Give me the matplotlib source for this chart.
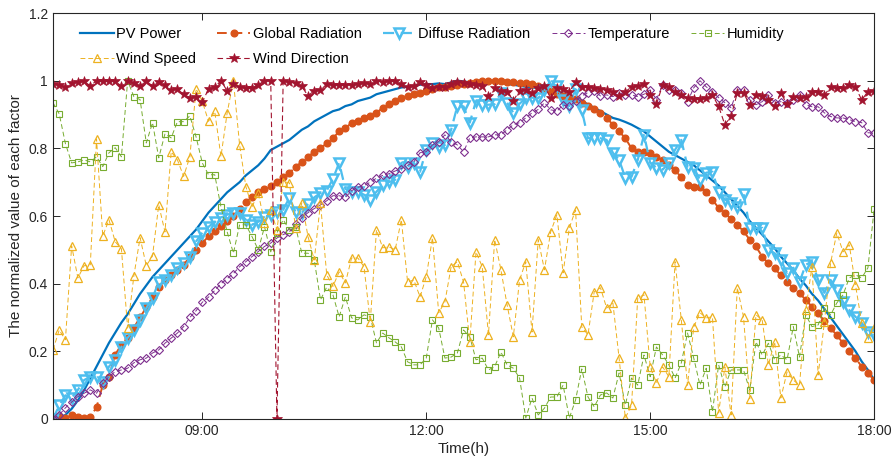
import numpy as np
import matplotlib
matplotlib.use("Agg")
import matplotlib.pyplot as plt
from matplotlib.ticker import FuncFormatter

plt.rcParams['font.family'] = ['Liberation Sans', 'DejaVu Sans']

# 5-minute samples from 07:00 to 18:00 (133 points)
n_pts = 133
hours = 7 + np.arange(n_pts) * 5 / 60

pv_power = [
    0.0, 0.003, 0.012, 0.03, 0.055, 0.085, 0.12, 0.155, 0.19, 0.225,
    0.255, 0.285, 0.31, 0.34, 0.37, 0.395, 0.42, 0.44, 0.46, 0.48,
    0.50, 0.52, 0.54, 0.56, 0.585, 0.61, 0.63, 0.65, 0.67, 0.685,
    0.70, 0.72, 0.735, 0.75, 0.77, 0.795, 0.805, 0.815, 0.825, 0.84,
    0.855, 0.865, 0.88, 0.89, 0.90, 0.91, 0.915, 0.925, 0.93, 0.94,
    0.945, 0.95, 0.96, 0.965, 0.97, 0.975, 0.98, 0.982, 0.985, 0.988,
    0.99, 0.99, 0.992, 0.99, 0.995, 1.0, 0.998, 0.995, 0.993, 0.995,
    1.0, 0.998, 0.995, 0.99, 0.988, 0.985, 0.982, 0.98, 0.978, 0.975,
    0.972, 0.968, 0.962, 0.955, 0.948, 0.94, 0.93, 0.92, 0.91, 0.90,
    0.89, 0.885, 0.878, 0.87, 0.86, 0.85, 0.835, 0.82, 0.805, 0.79,
    0.78, 0.77, 0.76, 0.75, 0.735, 0.72, 0.705, 0.69, 0.67, 0.65,
    0.63, 0.61, 0.585, 0.565, 0.545, 0.525, 0.505, 0.48, 0.46, 0.44,
    0.415, 0.395, 0.37, 0.35, 0.325, 0.30, 0.275, 0.25, 0.225, 0.20,
    0.17, 0.145, 0.115,
]

global_rad = [
    0.002, 0.009, 0.002, 0.012, 0.007, 0.002, 0.005, 0.035, 0.10, 0.125,
    0.19, 0.22, 0.24, 0.27, 0.30, 0.33, 0.36, 0.39, 0.41, 0.425,
    0.44, 0.455, 0.48, 0.50, 0.52, 0.54, 0.555, 0.57, 0.585, 0.60,
    0.62, 0.64, 0.655, 0.67, 0.68, 0.69, 0.70, 0.715, 0.727, 0.745,
    0.76, 0.775, 0.79, 0.80, 0.815, 0.83, 0.85, 0.86, 0.875, 0.88,
    0.89, 0.895, 0.905, 0.92, 0.93, 0.94, 0.95, 0.955, 0.96, 0.963,
    0.97, 0.975, 0.98, 0.98, 0.983, 0.987, 0.99, 0.993, 0.997, 1.0,
    1.0, 1.0, 0.998, 0.997, 0.995, 0.994, 0.993, 0.99, 0.983, 0.978,
    0.97, 0.962, 0.955, 0.95, 0.945, 0.935, 0.925, 0.915, 0.905, 0.89,
    0.87, 0.85, 0.83, 0.80, 0.79, 0.79, 0.787, 0.775, 0.766, 0.75,
    0.735, 0.715, 0.692, 0.687, 0.687, 0.672, 0.648, 0.624, 0.61, 0.59,
    0.574, 0.555, 0.53, 0.51, 0.48, 0.46, 0.445, 0.425, 0.405, 0.387,
    0.372, 0.352, 0.332, 0.312, 0.29, 0.268, 0.248, 0.224, 0.20, 0.18,
    0.155, 0.135, 0.115,
]

diffuse_rad = [
    0.0, 0.04, 0.07, 0.062, 0.086, 0.115, 0.125, 0.125, 0.11, 0.155,
    0.175, 0.213, 0.24, 0.263, 0.293, 0.328, 0.358, 0.405, 0.41, 0.425,
    0.447, 0.46, 0.48, 0.525, 0.55, 0.568, 0.583, 0.595, 0.604, 0.61,
    0.609, 0.589, 0.574, 0.583, 0.598, 0.604, 0.612, 0.618, 0.654, 0.612,
    0.609, 0.635, 0.655, 0.668, 0.675, 0.71, 0.757, 0.68, 0.672, 0.672,
    0.663, 0.648, 0.672, 0.692, 0.70, 0.707, 0.757, 0.746, 0.757, 0.731,
    0.796, 0.816, 0.805, 0.81, 0.855, 0.925, 0.924, 0.876, 0.94, 0.929,
    0.929, 0.931, 0.965, 0.935, 0.905, 0.932, 0.948, 0.95, 0.948, 0.973,
    1.0, 0.985, 0.944, 0.925, 0.975, 0.914, 0.83, 0.83, 0.83, 0.825,
    0.787, 0.766, 0.713, 0.716, 0.766, 0.84, 0.757, 0.743, 0.737, 0.757,
    0.796, 0.825, 0.746, 0.743, 0.707, 0.728, 0.731, 0.672, 0.648, 0.639,
    0.627, 0.666, 0.566, 0.565, 0.565, 0.50, 0.49, 0.47, 0.432, 0.447,
    0.405, 0.456, 0.465, 0.411, 0.373, 0.411, 0.382, 0.346, 0.322, 0.302,
    0.284, 0.257, 0.249,
]

temperature = [
    0.0, 0.012, 0.033, 0.05, 0.066, 0.076, 0.086, 0.076, 0.106, 0.125,
    0.14, 0.145, 0.15, 0.166, 0.175, 0.18, 0.195, 0.204, 0.224, 0.239,
    0.254, 0.273, 0.30, 0.32, 0.345, 0.36, 0.38, 0.40, 0.415, 0.43,
    0.45, 0.465, 0.48, 0.495, 0.51, 0.52, 0.535, 0.545, 0.553, 0.575,
    0.595, 0.61, 0.622, 0.633, 0.645, 0.66, 0.66, 0.655, 0.675, 0.685,
    0.69, 0.70, 0.712, 0.72, 0.725, 0.733, 0.74, 0.75, 0.76, 0.787,
    0.79, 0.81, 0.82, 0.84, 0.82, 0.81, 0.79, 0.831, 0.834, 0.834,
    0.834, 0.84, 0.84, 0.855, 0.87, 0.876, 0.89, 0.905, 0.915, 0.935,
    0.914, 0.91, 0.928, 0.925, 0.94, 0.955, 0.965, 0.97, 0.955, 0.958,
    0.953, 0.964, 0.958, 0.958, 0.953, 0.96, 0.973, 0.944, 0.988, 0.973,
    0.973, 0.964, 0.938, 0.979, 1.0, 0.982, 0.967, 0.95, 0.935, 0.92,
    0.973, 0.973, 0.944, 0.929, 0.938, 0.958, 0.935, 0.938, 0.935, 0.944,
    0.958, 0.929, 0.923, 0.923, 0.905, 0.894, 0.89, 0.89, 0.885, 0.879,
    0.876, 0.846, 0.846,
]

humidity = [
    0.935, 0.902, 0.814, 0.757, 0.76, 0.766, 0.76, 0.775, 0.746, 0.787,
    0.802, 0.775, 1.0, 0.953, 0.944, 0.816, 0.876, 0.772, 0.843, 0.831,
    0.879, 0.879, 0.896, 0.834, 0.757, 0.722, 0.722, 0.627, 0.553, 0.49,
    0.574, 0.574, 0.539, 0.50, 0.568, 0.494, 0.55, 0.589, 0.559, 0.568,
    0.49, 0.49, 0.47, 0.352, 0.39, 0.367, 0.302, 0.361, 0.299, 0.293,
    0.308, 0.302, 0.225, 0.254, 0.24, 0.228, 0.213, 0.169, 0.16, 0.16,
    0.18, 0.293, 0.269, 0.18, 0.183, 0.195, 0.263, 0.243, 0.175, 0.18,
    0.145, 0.155, 0.198, 0.16, 0.15, 0.121, 0.003, 0.062, 0.012, 0.032,
    0.065, 0.065, 0.10, 0.003, 0.056, 0.148, 0.065, 0.036, 0.071, 0.077,
    0.062, 0.136, 0.041, 0.121, 0.10, 0.189, 0.125, 0.213, 0.189, 0.16,
    0.121, 0.166, 0.254, 0.18, 0.10, 0.15, 0.021, 0.16, 0.095, 0.145,
    0.145, 0.145, 0.085, 0.228, 0.189, 0.224, 0.175, 0.189, 0.175, 0.273,
    0.183, 0.308, 0.273, 0.278, 0.328, 0.308, 0.343, 0.367, 0.417, 0.426,
    0.417, 0.447, 0.621,
]

wind_speed = [
    0.204, 0.263, 0.234, 0.512, 0.417, 0.453, 0.456, 0.828, 0.541, 0.589,
    0.524, 0.503, 0.269, 0.423, 0.536, 0.453, 0.482, 0.633, 0.553, 0.79,
    0.766, 0.717, 0.775, 0.976, 0.939, 0.88, 0.909, 0.776, 0.905, 1.0,
    0.81, 0.687, 0.627, 0.668, 0.58, 0.618, 0.559, 0.702, 0.698, 0.565,
    0.639, 0.539, 0.47, 0.639, 0.426, 0.392, 0.435, 0.402, 0.476, 0.476,
    0.45, 0.287, 0.559, 0.506, 0.509, 0.50, 0.589, 0.405, 0.411, 0.361,
    0.42, 0.536, 0.314, 0.346, 0.45, 0.465, 0.405, 0.228, 0.494, 0.45,
    0.249, 0.53, 0.441, 0.337, 0.243, 0.411, 0.465, 0.257, 0.53, 0.441,
    0.553, 0.604, 0.432, 0.565, 0.618, 0.272, 0.249, 0.376, 0.388, 0.328,
    0.343, 0.18, 0.003, 0.041, 0.358, 0.367, 0.154, 0.107, 0.154, 0.125,
    0.465, 0.293, 0.10, 0.272, 0.314, 0.299, 0.302, 0.018, 0.154, 0.012,
    0.388, 0.302, 0.06, 0.308, 0.293, 0.16, 0.228, 0.062, 0.139, 0.115,
    0.10, 0.322, 0.45, 0.13, 0.287, 0.462, 0.55, 0.494, 0.515, 0.396,
    0.284, 0.24, 0.269,
]

wind_dir = [
    0.99, 0.988, 0.981, 0.993, 0.995, 0.998, 0.985, 1.0, 1.0, 1.0,
    1.0, 0.983, 0.998, 0.993, 0.985, 0.998, 0.985, 0.995, 0.988, 0.973,
    0.975, 0.96, 0.95, 0.952, 0.936, 0.976, 0.981, 1.0, 0.97, 0.99,
    0.981, 0.978, 0.978, 0.988, 1.0, 1.0, 0.0, 1.0, 0.995, 0.993,
    0.983, 0.955, 0.971, 0.972, 0.99, 0.988, 0.988, 0.988, 0.988, 0.99,
    0.993, 0.99, 0.998, 0.995, 1.0, 0.998, 0.99, 0.981, 0.985, 0.995,
    0.988, 0.978, 0.981, 0.981, 0.99, 0.995, 0.993, 0.99, 0.988, 0.985,
    0.955, 0.978, 0.971, 0.968, 0.941, 0.971, 0.973, 0.964, 0.978, 0.983,
    0.949, 0.978, 0.976, 0.968, 0.995, 0.981, 0.981, 0.978, 0.975, 0.973,
    0.968, 0.955, 0.968, 0.981, 0.985, 0.99, 0.958, 0.93, 0.988, 0.981,
    0.968, 0.958, 0.949, 0.947, 0.947, 0.949, 0.958, 0.924, 0.87, 0.895,
    0.964, 0.964, 0.928, 0.958, 0.955, 0.943, 0.924, 0.964, 0.93, 0.952,
    0.949, 0.952, 0.966, 0.966, 0.958, 0.981, 0.978, 0.978, 0.988, 0.981,
    0.943, 0.968, 0.971,
]

x_ticks = [9, 12, 15, 18]
x_tick_labels = ["09:00", "12:00", "15:00", "18:00"]
y_ticks = [0, 0.2, 0.4, 0.6, 0.8, 1.0, 1.2]

dash = (0, (5, 3))

fig = plt.figure(figsize=(8.92, 4.66), dpi=100)
ax = fig.add_axes([0.0594, 0.1009, 0.9206, 0.8711])

h_pv, = ax.plot(hours, pv_power, color="#0072BD", lw=1.6, label="PV Power")
h_gr, = ax.plot(hours, global_rad, color="#D95319", lw=1.4, ls=dash, marker="o",
                ms=4.8, mfc="#D95319", mec="#D95319", label="Global Radiation")
h_dr, = ax.plot(hours, diffuse_rad, color="#4DBEEE", lw=1.6, ls=dash, marker="v",
                ms=6.5, mfc="none", mec="#4DBEEE", mew=1.8, label="Diffuse Radiation")
h_t, = ax.plot(hours, temperature, color="#7E2F8E", lw=0.7, ls=dash, marker="D",
               ms=4.0, mfc="none", mec="#7E2F8E", mew=0.8, label="Temperature")
h_h, = ax.plot(hours, humidity, color="#77AC30", lw=0.7, ls=dash, marker="s",
               ms=3.8, mfc="none", mec="#77AC30", mew=0.8, label="Humidity")
h_ws, = ax.plot(hours, wind_speed, color="#EDB120", lw=0.7, ls=dash, marker="^",
                ms=6.3, mfc="none", mec="#EDB120", mew=0.9, label="Wind Speed")
h_wd, = ax.plot(hours, wind_dir, color="#A2142F", lw=0.8, ls=dash, marker="*",
                ms=7, mfc="#A2142F", mec="#A2142F", mew=0.5, label="Wind Direction")

ax.set_xlim(7, 18)
ax.set_ylim(0, 1.2)
ax.set_xticks(x_ticks)
ax.set_xticklabels(x_tick_labels)
ax.set_yticks(y_ticks)
ax.yaxis.set_major_formatter(FuncFormatter(lambda v, p: f"{v:g}"))
ax.tick_params(direction="in", top=True, right=True, labelsize=10,
               length=5, width=0.7, colors="#262626")
for sp in ax.spines.values():
    sp.set_linewidth(0.8)
    sp.set_color("#262626")

ax.set_xlabel("Time(h)", fontsize=11, color="#262626", labelpad=3)
ax.set_ylabel("The normalized value of each factor", fontsize=11,
              color="#262626", labelpad=4)

# column-major fill so rows read: PV, Global, Diffuse, Temp, Humidity / Wind...
handles = [h_pv, h_ws, h_gr, h_wd, h_dr, h_t, h_h]
ax.legend(handles=handles, loc="upper left", bbox_to_anchor=(0.017, 0.997), ncol=5,
          frameon=False, fontsize=10.5, handlelength=2.3, handletextpad=0.15,
          columnspacing=1.45, labelspacing=0.75)

fig.savefig("out.png", dpi=100)
